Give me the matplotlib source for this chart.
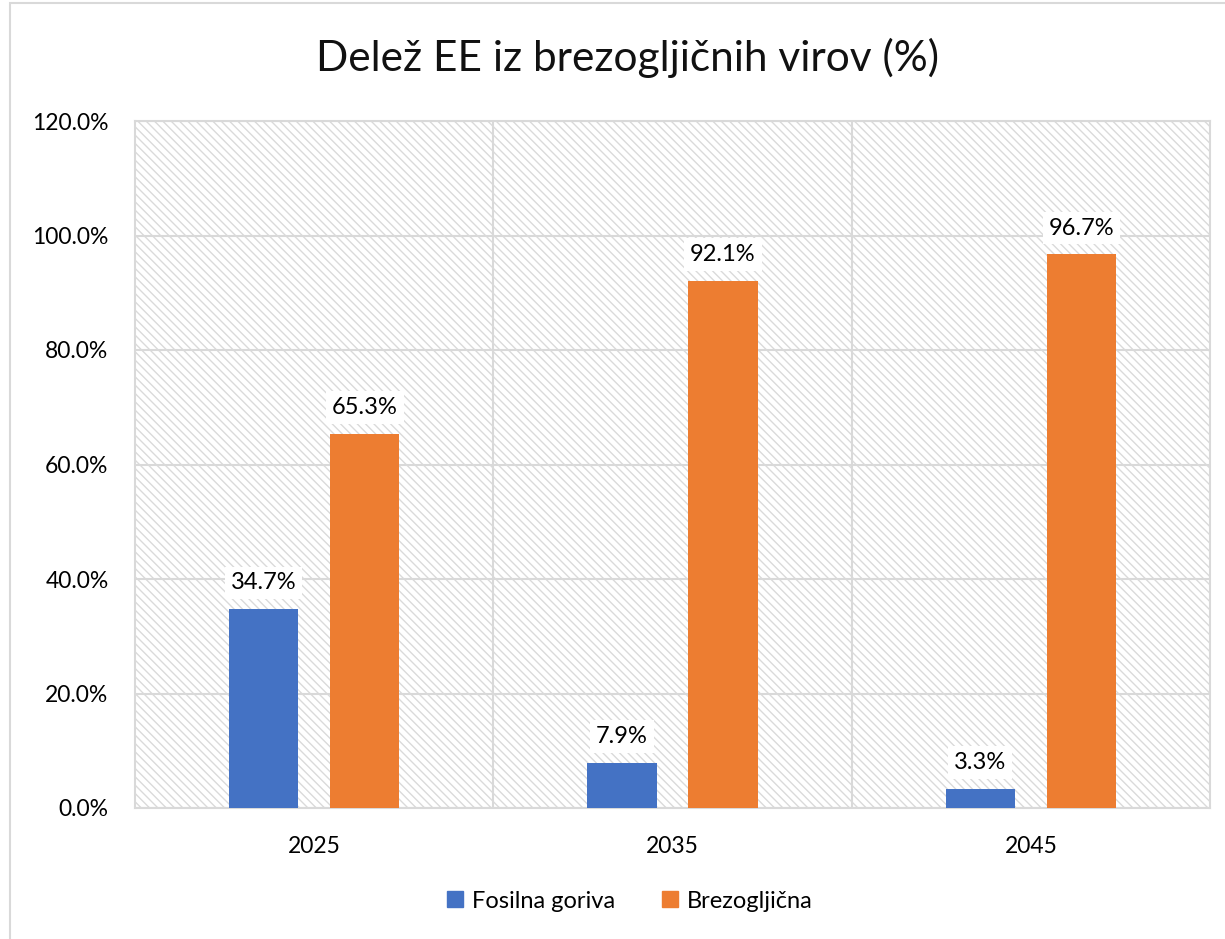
import matplotlib
matplotlib.use("Agg")
import matplotlib.pyplot as plt
import numpy as np
from matplotlib.patches import Rectangle, Patch
from matplotlib.ticker import FuncFormatter, MultipleLocator

years = ["2025", "2035", "2045"]
fosilna = [34.7, 7.9, 3.3]
brezogljicna = [65.3, 92.1, 96.7]
series_names = ["Fosilna goriva", "Brezogljična"]
title = "Delež EE iz brezogljičnih virov (%)"

BLUE = "#4472C4"
ORANGE = "#ED7D31"
GRID = "#d9d9d9"

plt.rcParams["font.family"] = ["Lato", "DejaVu Sans"]
plt.rcParams["hatch.linewidth"] = 1.0
plt.rcParams["hatch.color"] = "#dadada"

fig = plt.figure(figsize=(12.25, 9.39), dpi=100)
ax = fig.add_axes([135 / 1225, 1 - 808 / 939, 1075 / 1225, 687 / 939])

# outer chart border
fig.patches.append(Rectangle((10 / 1225, -0.02), 1.05, 1 - 3 / 939 + 0.02,
                             transform=fig.transFigure, fill=False,
                             edgecolor=GRID, lw=1.5))

# hatched plot area
ax.add_patch(Rectangle((0, 0), 1, 1, transform=ax.transAxes, facecolor="white",
                       edgecolor="#dadada", hatch="\\\\\\\\", lw=0, zorder=0))

x = np.arange(len(years))
off, w = 0.141, 0.193
b1 = ax.bar(x - off, fosilna, w, color=BLUE, zorder=3)
b2 = ax.bar(x + off, brezogljicna, w, color=ORANGE, zorder=3)

for bars, vals in ((b1, fosilna), (b2, brezogljicna)):
    for r, v in zip(bars, vals):
        ax.annotate(f"{v:.1f}%", (r.get_x() + r.get_width() / 2, v),
                    xytext=(0, 19), textcoords="offset points",
                    ha="center", va="center", fontsize=17, zorder=4,
                    bbox=dict(boxstyle="square,pad=0.25", fc="white", ec="none"))

ax.set_xlim(-0.5, 2.5)
ax.set_ylim(0, 120)
ax.yaxis.set_major_locator(MultipleLocator(20))
ax.yaxis.set_major_formatter(FuncFormatter(lambda v, p: f"{v:.1f}%"))
ax.set_xticks(x)
ax.set_xticklabels(years)
ax.set_xticks([0.5, 1.5], minor=True)
ax.grid(axis="y", which="major", color=GRID, lw=1.5, zorder=1)
ax.grid(axis="x", which="minor", color=GRID, lw=1.5, zorder=1)
ax.tick_params(axis="both", which="both", length=0, labelsize=16.5)
ax.tick_params(axis="y", pad=19)
ax.tick_params(axis="x", pad=20)
ax.set_axisbelow(True)
for s in ax.spines.values():
    s.set_color(GRID)
    s.set_linewidth(1.5)

fig.text(627 / 1225, 1 - 58 / 939, title, ha="center", va="center", fontsize=30.5,
         color="#111111")

handles = [Patch(color=BLUE, label=series_names[0]),
           Patch(color=ORANGE, label=series_names[1])]
fig.legend(handles=handles, loc="center", bbox_to_anchor=(630 / 1225, 1 - 901 / 939),
           ncol=2, frameon=False, fontsize=17, handlelength=0.65, handleheight=0.65,
           handletextpad=0.4, columnspacing=2.0)

fig.savefig("out.png", dpi=100)
